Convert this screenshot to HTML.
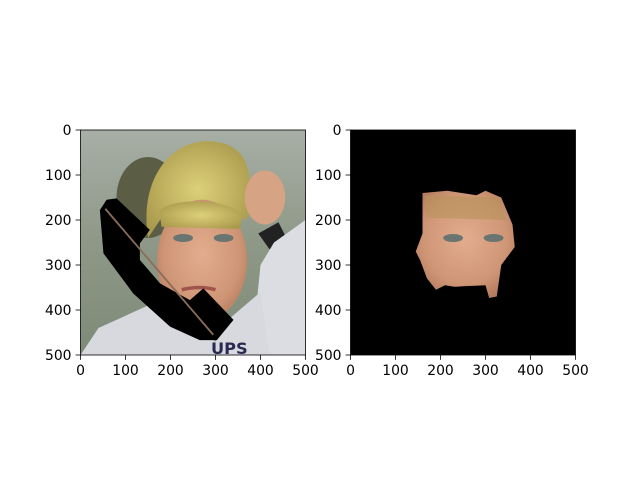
<!DOCTYPE html>
<html><head><meta charset="utf-8"><style>
html,body{margin:0;padding:0;background:#fff;width:640px;height:480px;overflow:hidden}
text{font-family:"DejaVu Sans","Liberation Sans",sans-serif;font-size:13.9px;fill:#000}
</style></head><body>
<svg id="fig" width="640" height="480" xmlns="http://www.w3.org/2000/svg">
<defs>
<linearGradient id="bg" x1="0" y1="0" x2="0" y2="1"><stop offset="0" stop-color="#a7afa6"/><stop offset="0.5" stop-color="#8e9887"/><stop offset="1" stop-color="#7e8a78"/></linearGradient>
<radialGradient id="skin" cx="0.5" cy="0.45" r="0.6"><stop offset="0" stop-color="#e2ad8e"/><stop offset="0.7" stop-color="#cf9676"/><stop offset="1" stop-color="#b27a5e"/></radialGradient>
<radialGradient id="hair" cx="0.5" cy="0.5" r="0.6"><stop offset="0" stop-color="#ddd07a"/><stop offset="1" stop-color="#a99a4c"/></radialGradient>
<clipPath id="clipL"><rect x="0" y="0" width="500" height="500"/></clipPath>
</defs>
<g transform="translate(80.5,130) scale(0.45)" clip-path="url(#clipL)">
<rect width="500" height="500" fill="url(#bg)"/>
<ellipse cx="150" cy="150" rx="70" ry="90" fill="#5b5e44"/>
<path d="M150,240 C130,110 200,20 290,25 C370,30 390,90 370,200 L300,170 L190,180 Z" fill="url(#hair)"/>
<ellipse cx="270" cy="290" rx="100" ry="135" fill="url(#skin)"/>
<path d="M175,180 C200,150 330,150 360,190 L355,220 L180,215 Z" fill="url(#hair)"/>
<ellipse cx="410" cy="150" rx="45" ry="60" fill="#d6a384"/>
<path d="M395,230 L440,205 L460,245 L420,265 Z" fill="#222"/>
<path d="M430,250 L500,200 L500,500 L380,500 L400,300 Z" fill="#dcdde2"/>
<path d="M0,500 L40,440 L150,390 L230,420 L300,470 L330,420 L400,360 L420,500 Z" fill="#d8d9df"/>
<ellipse cx="228" cy="240" rx="22" ry="9" fill="#6a7470"/>
<ellipse cx="318" cy="240" rx="22" ry="9" fill="#6a7470"/>
<path d="M225,355 Q265,345 300,355" stroke="#a0554c" stroke-width="8" fill="none"/>
<path d="M80,152 L154,222 L132,252 L132,289 L177,341 L243,378 L273,352 L340,422 L303,467 L265,467 L199,437 L117,363 L51,274 L43,178 L58,155 Z" fill="#000"/>
<path d="M55,175 L295,455" stroke="#8a6d5a" stroke-width="4"/>
<text x="290" y="498" style="font-size:36px;font-weight:bold;fill:#2a2a50">UPS</text>
</g>
<g transform="translate(350.5,130) scale(0.45)">
<rect width="500" height="500" fill="#000"/>
<path d="M160,140 L215,135 L280,145 L300,135 L335,150 L360,210 L365,260 L335,300 L325,370 L300,375 L270,355 L210,345 L190,355 L170,330 L155,290 L145,270 L160,230 Z" fill="url(#skin)"/>
<path d="M165,145 L330,150 L345,200 L170,195 Z" fill="#b8925a" opacity="0.6"/>
<ellipse cx="228" cy="240" rx="22" ry="9" fill="#6a7470"/>
<ellipse cx="318" cy="240" rx="22" ry="9" fill="#6a7470"/>
<path d="M225,355 Q265,345 300,355" stroke="#a0554c" stroke-width="8" fill="none"/>
<path d="M200,350 L300,345 L310,380 L200,390 Z" fill="#000"/>
</g>
<g id="axes"></g>
</svg>
<script>
const tickValues=[0,100,200,300,400,500];
const tickLabels=["0","100","200","300","400","500"];
const panels=[{x0:80.5,name:'left'},{x0:350.5,name:'right'}];
const y0=130, size=225, dmax=500;
const sx=(p,v)=>p.x0+v/dmax*size, sy=v=>y0+v/dmax*size;
const NS='http://www.w3.org/2000/svg';
const g=document.getElementById('axes');
function mk(t,a){const e=document.createElementNS(NS,t);for(const k in a)e.setAttribute(k,a[k]);g.appendChild(e);return e;}
panels.forEach(p=>{
  const f=mk('rect',{x:p.x0,y:y0,width:size,height:size,fill:'none',stroke:'#000','stroke-width':0.8});
  
  
  tickValues.forEach((v,i)=>{
    const x=sx(p,v), y=sy(v);
    const t1=mk('line',{x1:x,y1:y0+size,x2:x,y2:y0+size+4.9,stroke:'#000','stroke-width':0.8});
    
    
    const l1=mk('text',{x:x,y:y0+size+20,'text-anchor':'middle'});l1.textContent=tickLabels[i];
    
    
    const t2=mk('line',{x1:p.x0-4.9,y1:y,x2:p.x0,y2:y,stroke:'#000','stroke-width':0.8});
    
    
    const l2=mk('text',{x:p.x0-9,y:y+5,'text-anchor':'end'});l2.textContent=tickLabels[i];
    
    
  });
});
</script>
</body></html>
